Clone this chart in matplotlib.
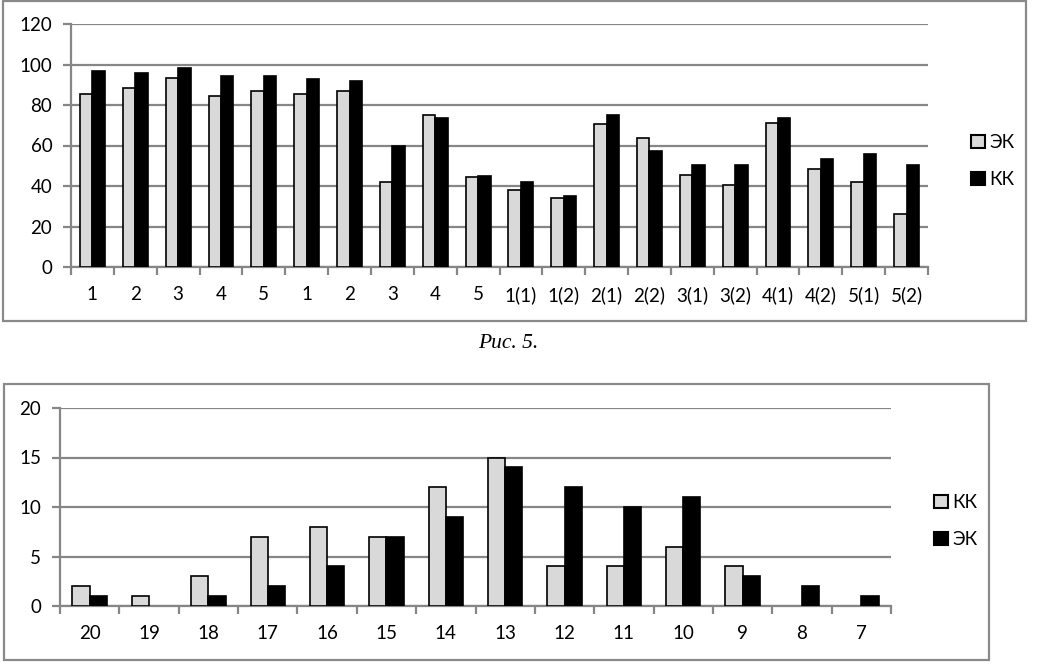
import numpy as np
import matplotlib.pyplot as plt
from matplotlib.patches import Rectangle, Patch

# верхняя диаграмма
cats_top = ["1", "2", "3", "4", "5", "1", "2", "3", "4", "5",
            "1(1)", "1(2)", "2(1)", "2(2)", "3(1)", "3(2)", "4(1)", "4(2)", "5(1)", "5(2)"]
ek_top = [85.5, 88.6, 93.5, 84.2, 87.1, 85.5, 87.1, 41.8, 75.3, 44.2,
          37.8, 33.9, 70.4, 63.6, 45.2, 40.3, 71.3, 48.2, 41.8, 26.0]
kk_top = [97.0, 95.7, 98.5, 94.4, 94.4, 92.9, 91.7, 60.0, 73.8, 45.0,
          42.2, 35.3, 75.1, 57.4, 50.5, 50.5, 73.8, 53.1, 55.9, 50.5]

# нижняя диаграмма
cats_bot = ["20", "19", "18", "17", "16", "15", "14", "13", "12", "11", "10", "9", "8", "7"]
kk_bot = [2, 1, 3, 7, 8, 7, 12, 15, 4, 4, 6, 4, 0, 0]
ek_bot = [1, 0, 1, 2, 4, 7, 9, 14, 12, 10, 11, 3, 2, 1]

W, H = 1044, 664
GRAY = "#d9d9d9"
GRID = "#868686"
FS = 13.5
plt.rcParams['font.family'] = ['Lato', 'DejaVu Sans']

fig = plt.figure(figsize=(W / 100, H / 100), dpi=100)


def px_rect(x0, y0, x1, y1):
    return [x0 / W, 1 - y1 / H, (x1 - x0) / W, (y1 - y0) / H]


def draw(ax, cats, s1, s2, ymax, step, names, leg_xy):
    n = len(cats)
    x = np.arange(n)
    w = 0.29
    # нулевые столбцы не рисуем
    lw1 = [1.2 if v > 0 else 0 for v in s1]
    lw2 = [1.2 if v > 0 else 0 for v in s2]
    ax.bar(x - w / 2, s1, w, color=GRAY, edgecolor="black", linewidth=lw1, zorder=3)
    ax.bar(x + w / 2, s2, w, color="black", edgecolor="black", linewidth=lw2, zorder=3)
    ax.set_xlim(-0.5, n - 0.5)
    ax.set_ylim(0, ymax)
    ax.set_yticks(np.arange(0, ymax + 1, step))
    ax.yaxis.grid(True, color=GRID, linewidth=1.6, zorder=0)
    ax.set_axisbelow(True)
    ax.set_xticks(x)
    ax.set_xticklabels(cats)
    ax.set_xticks(np.arange(n + 1) - 0.5, minor=True)
    ax.tick_params(axis="x", which="major", length=0, pad=14, labelsize=FS)
    ax.tick_params(axis="x", which="minor", length=6, width=1.6, color=GRID, direction="out")
    ax.tick_params(axis="y", length=5.5, width=1.6, color=GRID, pad=8, labelsize=FS)
    for s in ["top", "right"]:
        ax.spines[s].set_visible(False)
    for s in ["left", "bottom"]:
        ax.spines[s].set_color(GRID)
        ax.spines[s].set_linewidth(1.6)
    handles = [Patch(facecolor=GRAY, edgecolor="black", linewidth=1.5),
               Patch(facecolor="black", edgecolor="black", linewidth=1.5)]
    fig.legend(handles, names, loc="center left",
               bbox_to_anchor=(leg_xy[0] / W, 1 - leg_xy[1] / H),
               frameon=False, fontsize=FS, handlelength=0.7, handleheight=0.7,
               handletextpad=0.25, labelspacing=1.05, borderpad=0)


# рамки
fig.patches.append(Rectangle((3 / W, 1 - 321 / H), 1023 / W, 320 / H, transform=fig.transFigure,
                             fill=False, edgecolor="#8a8a8a", linewidth=1.6))
fig.patches.append(Rectangle((4 / W, 1 - 660 / H), 985 / W, 276 / H, transform=fig.transFigure,
                             fill=False, edgecolor="#8a8a8a", linewidth=1.6))

ax1 = fig.add_axes(px_rect(71, 24, 928, 267))
draw(ax1, cats_top, ek_top, kk_top, 120, 20, ["ЭК", "КК"], (962, 161))

ax2 = fig.add_axes(px_rect(60, 408, 891, 606))
draw(ax2, cats_bot, kk_bot, ek_bot, 20, 5, ["КК", "ЭК"], (925, 521))

fig.text(508 / W, 1 - 343 / H, "Рис. 5.", family="Liberation Serif", style="italic",
         fontsize=15.5, ha="center", va="center")

fig.savefig("out.png", dpi=100)
